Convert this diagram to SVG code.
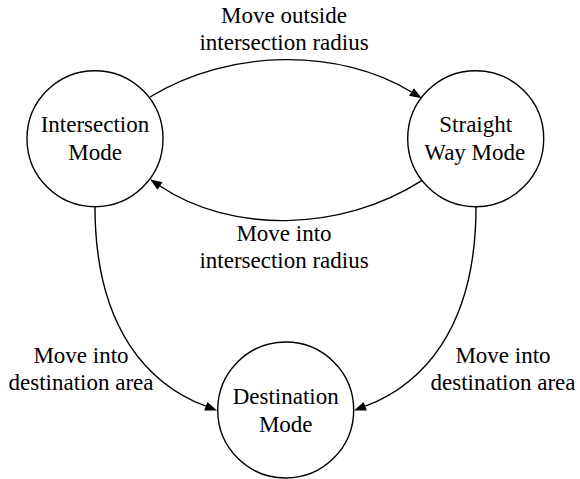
<svg xmlns="http://www.w3.org/2000/svg" width="580" height="479" viewBox="0 0 580 479">
<rect width="580" height="479" fill="#fff"/>
<g id="connectors">
<g fill="none" stroke="#000" stroke-width="1.4">
<path d="M150,97 C230,48 340,48 411.5,92"/>
<path d="M421.7,180.7 C340,233 230,233 160,186"/>
<path d="M95,207 C95,330 150,385 205.8,406.2"/>
<path d="M476,207 C476,330 421,385 365.2,406.2"/>
</g>
<g fill="#000">
<polygon points="421.7,98.3 409.1,95.8 413.9,88.2"/>
<polygon points="150,179.3 162.5,182.2 157.5,189.7"/>
<polygon points="217,410.5 204.2,410.4 207.4,402"/>
<polygon points="354,410.5 363.6,402 366.8,410.4"/>
</g>
</g>
<g id="labels">
<text x="221.1" y="22.7" font-size="23" font-family="'Liberation Serif'">Move outside</text>
<text x="199.4" y="50" font-size="23" font-family="'Liberation Serif'">intersection radius</text>
<text x="236.4" y="240.7" font-size="23" font-family="'Liberation Serif'">Move into</text>
<text x="199.4" y="268.3" font-size="23" font-family="'Liberation Serif'">intersection radius</text>
<text x="33.4" y="362.7" font-size="23" font-family="'Liberation Serif'">Move into</text>
<text x="8.5" y="390" font-size="23" font-family="'Liberation Serif'">destination area</text>
<text x="455.4" y="362.7" font-size="23" font-family="'Liberation Serif'">Move into</text>
<text x="430.5" y="390" font-size="23" font-family="'Liberation Serif'">destination area</text>
</g>
<g id="intersection">
<circle cx="95" cy="138.7" r="68" fill="none" stroke="#000" stroke-width="1.4"/>
<text x="40.7" y="131.7" font-size="23" font-family="'Liberation Serif'">Intersection</text>
<text x="68.2" y="160" font-size="23" font-family="'Liberation Serif'">Mode</text>
</g>
<g id="straight">
<circle cx="475.7" cy="138.7" r="68" fill="none" stroke="#000" stroke-width="1.4"/>
<text x="439.3" y="131.7" font-size="23" font-family="'Liberation Serif'">Straight</text>
<text x="424.3" y="160" font-size="23" font-family="'Liberation Serif'">Way Mode</text>
</g>
<g id="destination">
<circle cx="285.7" cy="410" r="68" fill="none" stroke="#000" stroke-width="1.4"/>
<text x="232.7" y="404" font-size="23" font-family="'Liberation Serif'">Destination</text>
<text x="258.9" y="431.7" font-size="23" font-family="'Liberation Serif'">Mode</text>
</g>
</svg>
